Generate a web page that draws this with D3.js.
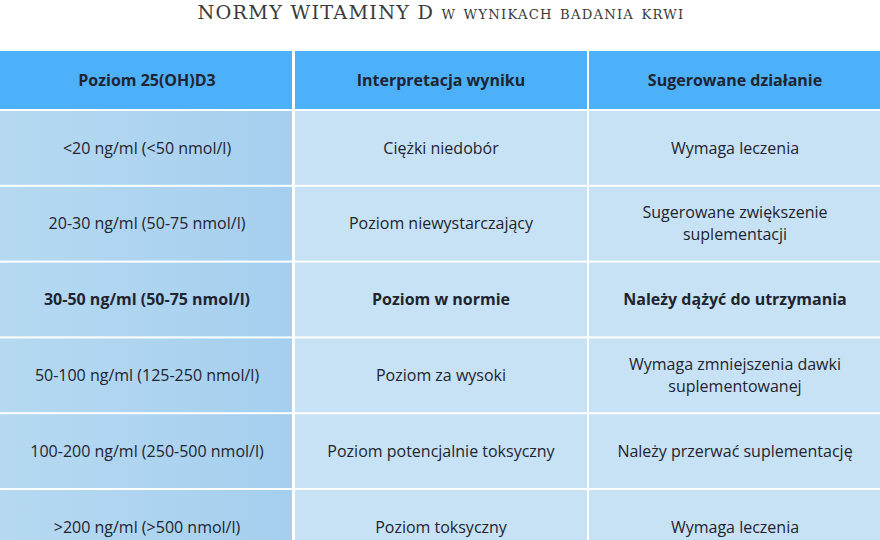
<!DOCTYPE html>
<html><head><meta charset="utf-8">
<script src="https://cdn.jsdelivr.net/npm/d3@7"></script>
<style>body{margin:0;background:#fff}</style></head>
<body><svg id="c" width="880" height="540"></svg>
<script>
const title = "NORMY WITAMINY D w wynikach badania krwi";
const columns = ["Poziom 25(OH)D3", "Interpretacja wyniku", "Sugerowane działanie"];
const levels = ["<20 ng/ml (<50 nmol/l)", "20-30 ng/ml (50-75 nmol/l)", "30-50 ng/ml (50-75 nmol/l)", "50-100 ng/ml (125-250 nmol/l)", "100-200 ng/ml (250-500 nmol/l)", ">200 ng/ml (>500 nmol/l)"];
const interpretations = ["Ciężki niedobór", "Poziom niewystarczający", "Poziom w normie", "Poziom za wysoki", "Poziom potencjalnie toksyczny", "Poziom toksyczny"];
const actions = [["Wymaga leczenia"], ["Sugerowane zwiększenie", "suplementacji"], ["Należy dążyć do utrzymania"], ["Wymaga zmniejszenia dawki", "suplementowanej"], ["Należy przerwać suplementację"], ["Wymaga leczenia"]];
const boldRow = 2;

const svg = d3.select("#c");
const defs = svg.append("defs");
const g = defs.append("linearGradient").attr("id","lg").attr("x1",0).attr("x2",1).attr("y1",0).attr("y2",0);
g.append("stop").attr("offset","0%").attr("stop-color","#b6d9f1");
g.append("stop").attr("offset","60%").attr("stop-color","#acd3ef");
g.append("stop").attr("offset","100%").attr("stop-color","#a4cfee");

svg.append("text").attr("x",441).attr("y",19).attr("text-anchor","middle")
  .style("font-family","'DejaVu Serif', serif").style("font-variant","small-caps")
  .style("font-size","19px").attr("fill","#3a3a3a").attr("letter-spacing","1.2")
  .attr("textLength",487).attr("lengthAdjust","spacingAndGlyphs").text(title);

const x = d3.scaleBand().domain(d3.range(3)).range([0,882]);
function ry(i){ return i===0?51:51+58+2+(i-1)*75.8; }
function rh(i){ return i===0?58:73.8; }
const font = "'Open Sans', 'DejaVu Sans', sans-serif";

for(let r=0;r<7;r++){
  for(let c=0;c<3;c++){
    const fill = r===0?"#4db1f9":(c===0?"url(#lg)":"#c7e2f4");
    svg.append("rect").attr("x",x(c)+(c?1:0)).attr("y",ry(r)).attr("width",x.bandwidth()-2).attr("height",rh(r)).attr("fill",fill);
    let lines;
    if(r===0) lines=[columns[c]];
    else lines = c===0?[levels[r-1]]:c===1?[interpretations[r-1]]:actions[r-1];
    const bold = r===0 || r-1===boldRow;
    const cy = ry(r)+rh(r)/2;
    const lh = 22;
    lines.forEach((t,k)=>{
      svg.append("text").attr("x",x(c)+x.bandwidth()/2).attr("y",cy+(k-(lines.length-1)/2)*lh)
        .attr("dy","0.35em").attr("text-anchor","middle")
        .style("font-family",font).style("font-size","16px").style("font-weight",bold?"700":"400")
        .attr("fill","#1f2430").text(t);
    });
  }
}
</script></body></html>
